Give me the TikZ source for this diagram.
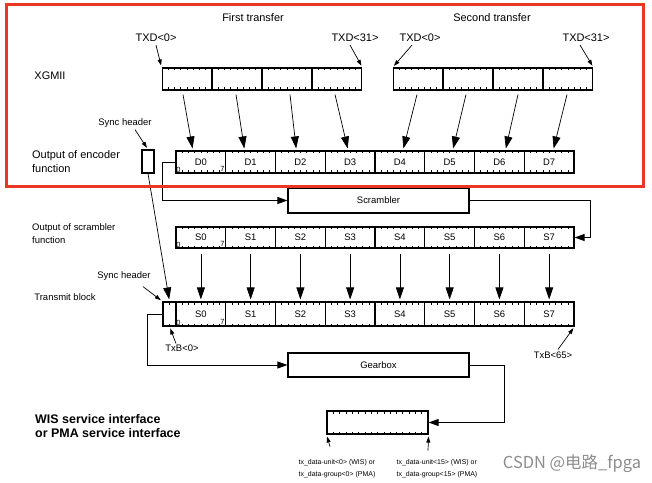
\documentclass[tikz,border=0pt]{standalone}
\usepackage{fontspec}
\setmainfont{Liberation Sans}
\newfontfamily\cjk{Noto Sans CJK SC}
\usepackage{tikz}
\usetikzlibrary{arrows.meta,calc}
\definecolor{framered}{RGB}{232,56,36}

\newcommand{\bitticks}[1]{%
  \pgfmathtruncatemacro{\nlast}{#1-1}%
  \foreach \k in {1,...,\nlast}{%
    \draw[line width=0.6bp] ($(path picture bounding box.north west)!\k/#1!(path picture bounding box.north east)$) -- ++(0,-2.5bp);
    \draw[line width=0.6bp] ($(path picture bounding box.south west)!\k/#1!(path picture bounding box.south east)$) -- ++(0,2.5bp);
  }}

\begin{document}
\begin{tikzpicture}[x=1bp,y=-1bp]
\tikzstyle{cell}=[draw,line width=1.1bp,minimum width=49.75bp,minimum height=22bp,inner sep=0pt,font=\fontsize{9.5}{10}\selectfont,path picture={\bitticks{8}}]
\tikzstyle{synccell}=[draw,line width=1.1bp,minimum width=13bp,minimum height=24bp,inner sep=0pt,path picture={\bitticks{2}}]
\tikzstyle{procbox}=[draw,line width=1.1bp,minimum width=181bp,inner sep=0pt,font=\fontsize{9.5}{10}\selectfont]
\tikzstyle{hdr}=[font=\fontsize{11}{14}\selectfont,inner sep=0pt]
\tikzstyle{lbl}=[font=\fontsize{9.5}{13}\selectfont,inner sep=0pt]
\tikzstyle{bitno}=[font=\fontsize{7.5}{7.5}\selectfont,inner sep=0.6bp]
\tikzstyle{pinlbl}=[font=\fontsize{7}{12}\selectfont,inner sep=0pt,align=left]
\tikzstyle{bigarrow}=[line width=0.7bp,-{Triangle[length=12bp,width=8bp]},shorten >=2bp]
\tikzstyle{boxarrow}=[line width=0.9bp,-{Triangle[length=10bp,width=7bp]}]
\tikzstyle{tagarrow}=[line width=0.7bp,-{Triangle[length=6bp,width=4bp]},shorten >=2bp]
\useasboundingbox (0,0) rectangle (652,483);

\node[hdr] (first) at (253,18) {First transfer};
\node[hdr] (second) at (492,18) {Second transfer};
\node[hdr] (txd0a) at (156,38) {TXD<0>};
\node[hdr] (txd31a) at (355,38) {TXD<31>};
\node[hdr] (txd0b) at (420,38) {TXD<0>};
\node[hdr] (txd31b) at (586,38) {TXD<31>};
\node[hdr] (xgmii) at (50,76) {XGMII};
\node[hdr,anchor=west,align=left] (enc) at (32,162) {Output of encoder\\function};
\node[lbl,anchor=west,align=left] (scrout) at (32,233.5) {Output of scrambler\\function};
\node[lbl] (sync1) at (125,123) {Sync header};
\node[lbl] (sync2) at (124,276) {Sync header};
\node[lbl] (txblk) at (65,297) {Transmit block};
\node[lbl] (txb0) at (182,348) {TxB<0>};
\node[lbl] (txb65) at (553,355) {TxB<65>};
\node[font=\fontsize{12.5}{14}\selectfont\bfseries,inner sep=0pt,anchor=west,align=left] (wis) at (35,426) {WIS service interface\\or PMA service interface};

\foreach \i in {0,...,3}
  \node[cell] (x\i) at ({187+50*\i},79) {};
\foreach \i in {4,...,7}
  \node[cell] (x\i) at ({218+50*\i},79) {};
\foreach \i in {0,...,7} {
  \node[cell] (d\i) at ({200.9+49.75*\i},162) {D\i};
  \node[cell,minimum height=21bp] (s\i) at ({200.9+49.75*\i},237.5) {S\i};
  \node[cell,minimum height=24bp] (t\i) at ({200.9+49.75*\i},314) {S\i};
}
\foreach \r in {d0,s0,t0} {
  \node[bitno,anchor=south west] (\r-lo) at (\r.south west) {0};
  \node[bitno,anchor=south east] (\r-hi) at ([xshift=-1bp,yshift=1.5bp]\r.south east) {7};
}
\node[draw,line width=1.1bp,minimum width=12bp,minimum height=23bp,inner sep=0pt] (sh1) at (148,161.5) {};
\node[synccell] (sh2) at (169.5,314) {};

\node[procbox,minimum height=25bp] (scr) at (378.5,200.5) {Scrambler};
\node[procbox,minimum height=24bp] (gb) at (378.5,365) {Gearbox};
\node[draw,line width=1.1bp,minimum width=101bp,minimum height=23bp,inner sep=0pt,path picture={\bitticks{16}}] (out) at (377.5,422.5) {};
\node[pinlbl] (u0) at (337,469) {tx\_data-unit<0> (WIS) or\\tx\_data-group<0> (PMA)};
\node[pinlbl] (u15) at (437,469) {tx\_data-unit<15> (WIS) or\\tx\_data-group<15> (PMA)};
\node[font=\cjk\fontsize{16.5}{16.5}\selectfont,text=black!45,inner sep=0pt] (wm) at (572,464) {CSDN @电路\_fpga};

\foreach \i/\a/\b in {0/-4bp/-8bp,1/-1bp/-6bp,2/3bp/-4bp,3/-2bp/-2bp,4/-1bp/3bp,5/-2bp/3bp,6/0bp/6bp,7/-1bp/4bp}
  \draw[bigarrow] ([xshift=\a,yshift=-4bp]x\i.south) -- ([xshift=\b]d\i.north);
\foreach \i in {0,...,7}
  \draw[bigarrow] ([yshift=-5bp]s\i.south) -- (t\i.north);

\draw[tagarrow] ([yshift=-3bp]txd0a.south) -- (x0.north west);
\draw[tagarrow] ([xshift=-5bp,yshift=-3bp]txd31a.south) -- (x3.north east);
\draw[tagarrow] ([xshift=-8bp,yshift=-3bp]txd0b.south) -- (x4.north west);
\draw[tagarrow] ([xshift=-6bp,yshift=-3bp]txd31b.south) -- (x7.north east);
\draw[tagarrow] ([xshift=10bp,yshift=-2bp]sync1.south) -- (sh1.north);
\draw[tagarrow] ([xshift=19bp,yshift=-6bp]sync2.south) -- (sh2.north west);
\draw[tagarrow] ([xshift=-6bp,yshift=1bp]txb0.north) -- (sh2.south);
\draw[tagarrow] ([xshift=5bp,yshift=2bp]txb65.north) -- (t7.south east);
\draw[tagarrow] ([xshift=-7bp,yshift=13bp]u0.north) -- (out.south west);
\draw[tagarrow] ([xshift=-9bp,yshift=9bp]u15.north) -- (out.south east);

\draw[bigarrow] (sh1.south) -- (sh2.north);
\draw[boxarrow] (d0.west) -- ++(-13,0) |- (scr.west);
\draw[boxarrow] (scr.east) -- ++(121,0) |- (s7.east);
\draw[boxarrow] (sh2.west) -- ++(-15,0) |- (gb.west);
\draw[boxarrow] (gb.east) -- ++(35,0) |- (out.east);

\draw[line width=3bp,framered] (6,5) rectangle (643,187);
\end{tikzpicture}
\end{document}
